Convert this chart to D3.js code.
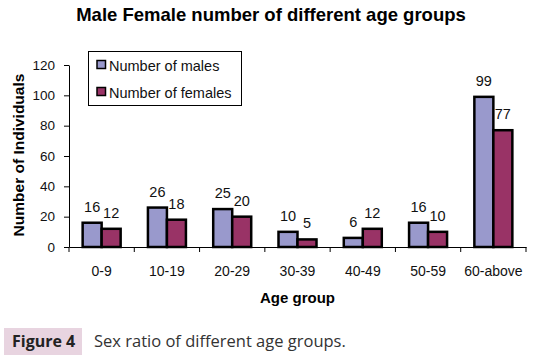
<!DOCTYPE html>
<html>
<head>
<meta charset="utf-8">
<script src="https://cdn.jsdelivr.net/npm/d3@7"></script>
<style>
  body { margin: 0; background: #fff; }
  svg { display: block; }
</style>
</head>
<body>
<div id="chart"></div>
<script>
//Chart data
var ageGroups = ["0-9", "10-19", "20-29", "30-39", "40-49", "50-59", "60-above"];
var males = [16, 26, 25, 10, 6, 16, 99];
var females = [12, 18, 20, 5, 12, 10, 77];
var seriesNames = ["Number of males", "Number of females"];
var seriesColors = ["#9999cc", "#993366"];
var yTicks = [0, 20, 40, 60, 80, 100, 120];

var w = 533;
var h = 360;
var plotLeft = 69, plotRight = 526, plotTop = 65, plotBottom = 247;
var arial = "'Liberation Sans', Arial, sans-serif";

var svg = d3.select("#chart")
  .append("svg")
  .attr("width", w)
  .attr("height", h);

var x = d3.scaleBand().domain(ageGroups).range([plotLeft, plotRight]);
var y = d3.scaleLinear().domain([0, 120]).range([plotBottom, plotTop]);
var barW = 19;

//Title
svg.append("text")
  .attr("x", 271).attr("y", 21)
  .attr("text-anchor", "middle")
  .style("font", "bold 18.5px " + arial)
  .text("Male Female number of different age groups");

//Y axis
var yAxis = svg.append("g")
  .attr("transform", "translate(" + plotLeft + ",0)")
  .call(d3.axisLeft(y).tickValues(yTicks).tickSize(5).tickSizeOuter(0));
yAxis.select(".domain").attr("stroke", "#000").attr("stroke-width", 1);
yAxis.selectAll(".tick line").attr("stroke", "#000");
yAxis.selectAll("text")
  .attr("x", -14)
  .style("font", "13.5px " + arial)
  .attr("fill", "#111");

//X axis
var xAxis = svg.append("g")
  .attr("transform", "translate(0," + plotBottom + ")")
  .call(d3.axisBottom(x).tickSize(0).tickSizeOuter(0));
xAxis.select(".domain").attr("stroke", "#000");
xAxis.selectAll("text")
  .attr("y", 29)
  .attr("dy", null)
  .style("font", "14px " + arial)
  .attr("fill", "#111");
//Ticks between categories
var edges = ageGroups.map(function(d) { return x(d); }).concat([plotRight]);
svg.selectAll(".xtick")
  .data(edges)
  .enter()
  .append("line")
  .attr("x1", function(d) { return d; })
  .attr("x2", function(d) { return d; })
  .attr("y1", plotBottom)
  .attr("y2", plotBottom + 5)
  .attr("stroke", "#000");

//Axis titles
svg.append("text")
  .attr("transform", "translate(24,155) rotate(-90)")
  .attr("text-anchor", "middle")
  .style("font", "bold 15.5px " + arial)
  .text("Number of Individuals");
svg.append("text")
  .attr("x", 297.5).attr("y", 303)
  .attr("text-anchor", "middle")
  .style("font", "bold 15px " + arial)
  .text("Age group");

//Bars
var series = [males, females];
series.forEach(function(vals, s) {
  var g = svg.append("g");
  var offset = x.bandwidth() / 2 - barW + s * barW;
  g.selectAll("rect")
    .data(vals)
    .enter()
    .append("rect")
    .attr("x", function(d, i) { return x(ageGroups[i]) + offset; })
    .attr("y", function(d) { return y(d); })
    .attr("width", barW)
    .attr("height", function(d) { return plotBottom - y(d); })
    .attr("fill", seriesColors[s])
    .attr("stroke", "#000")
    .attr("stroke-width", 2.5);
  g.selectAll("text")
    .data(vals)
    .enter()
    .append("text")
    .attr("x", function(d, i) { return x(ageGroups[i]) + offset + barW / 2; })
    .attr("y", function(d) { return y(d) - 11; })
    .attr("text-anchor", "middle")
    .style("font", "14.5px " + arial)
    .attr("fill", "#111")
    .text(function(d) { return d; });
});

//Legend
var legend = svg.append("g");
legend.append("rect")
  .attr("x", 88.5).attr("y", 51.5)
  .attr("width", 153).attr("height", 54)
  .attr("fill", "#fff")
  .attr("stroke", "#000");
seriesNames.forEach(function(name, i) {
  legend.append("rect")
    .attr("x", 97).attr("y", 60.5 + i * 27)
    .attr("width", 8.5).attr("height", 8)
    .attr("fill", seriesColors[i])
    .attr("stroke", "#000")
    .attr("stroke-width", 1.5);
  legend.append("text")
    .attr("x", 109).attr("y", 71 + i * 27)
    .style("font", "14.5px " + arial)
    .attr("fill", "#111")
    .text(name);
});

//Caption
svg.append("rect")
  .attr("x", 4).attr("y", 328)
  .attr("width", 78).attr("height", 27)
  .attr("fill", "#e8d4e0");
svg.append("text")
  .attr("x", 12).attr("y", 347)
  .style("font", "bold 16px 'Open Sans', sans-serif")
  .attr("fill", "#222")
  .text("Figure 4");
svg.append("text")
  .attr("x", 94).attr("y", 347)
  .style("font", "16.5px 'Open Sans', sans-serif")
  .attr("fill", "#333")
  .text("Sex ratio of different age groups.");
</script>
</body>
</html>
